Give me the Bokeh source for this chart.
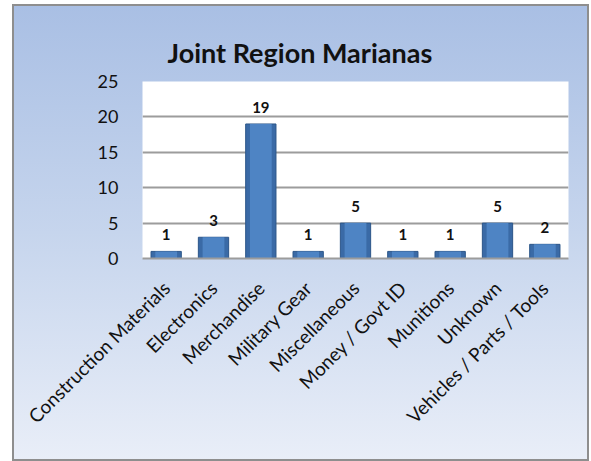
import math
from bokeh.plotting import figure
from bokeh.models import ColumnDataSource, FactorRange, Range1d, FixedTicker
from bokeh.core.properties import value
from bokeh.embed import file_html
from bokeh.resources import INLINE

categories = ["Construction Materials", "Electronics", "Merchandise", "Military Gear",
              "Miscellaneous", "Money / Govt ID", "Munitions", "Unknown",
              "Vehicles / Parts / Tools"]
counts = [1, 3, 19, 1, 5, 1, 1, 5, 2]
y_ticks = [0, 5, 10, 15, 20, 25]
title_text = "Joint Region Marianas"

src = ColumnDataSource(dict(cat=categories, val=counts, lbl=[str(v) for v in counts]))

p = figure(x_range=FactorRange(*categories, range_padding=0), y_range=Range1d(0, 25),
           width=577, height=457, output_backend="svg", toolbar_location=None,
           min_border_left=130, min_border_right=21, min_border_top=77, min_border_bottom=203)
p.styles = {"background-image": "linear-gradient(180deg, #a9bfe4 0%, #c6d5ed 50%, #e9eef8 100%)",
            "outline": "2px solid #8e8e8e", "outline-offset": "-2px",
            "margin-left": "12px", "margin-top": "4px"}
p.border_fill_alpha = 0
p.background_fill_color = "white"
p.outline_line_color = None

p.title.text = title_text
p.title.align = "left"
p.title.offset = 25
p.title.text_font = "Lato"
p.title.text_font_size = "27px"
p.title.text_font_style = "bold"
p.title.text_color = "#111111"
p.title.standoff = 25

p.vbar(x="cat", top="val", width=0.64, source=src, fill_color="#3a6aa6",
       line_color="#2c5689", line_width=1)
p.vbar(x="cat", top="val", width=0.46, source=src, fill_color="#4e84c4",
       line_color=None)
p.text(x="cat", y="val", text="lbl", source=src, text_align="center",
       text_baseline="bottom", y_offset=-11, text_font=value("Lato"),
       text_font_size="15px", text_font_style="bold", text_color="#111111")

p.ygrid.ticker = FixedTicker(ticks=y_ticks)
p.ygrid.grid_line_color = "#9c9c9c"
p.ygrid.grid_line_width = 2
p.xgrid.grid_line_color = None

p.yaxis.ticker = FixedTicker(ticks=y_ticks)
p.yaxis.axis_line_color = None
p.yaxis.major_tick_line_color = None
p.yaxis.minor_tick_line_color = None
p.yaxis.major_label_text_font = "Lato"
p.yaxis.major_label_text_font_size = "18px"
p.yaxis.major_label_text_color = "#111111"
p.yaxis.major_label_standoff = 18

p.xaxis.axis_line_color = "#9c9c9c"
p.xaxis.axis_line_width = 2
p.xaxis.major_tick_line_color = None
p.xaxis.minor_tick_line_color = None
p.xaxis.major_label_orientation = math.pi / 4
p.xaxis.major_label_text_font = "Lato"
p.xaxis.major_label_text_font_size = "19px"
p.xaxis.major_label_text_color = "#111111"
p.xaxis.major_label_standoff = 20

open("out.html", "w").write(file_html(p, INLINE))
